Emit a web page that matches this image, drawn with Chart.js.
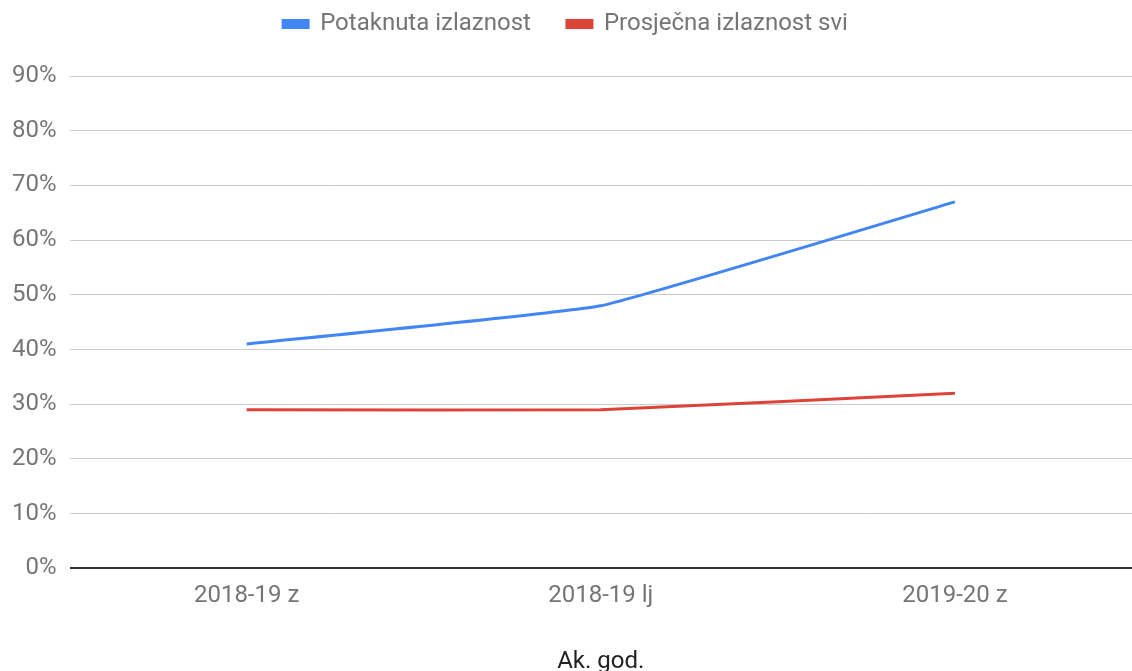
<!DOCTYPE html>
<html>
<head>
<meta charset="utf-8">
<script src="https://cdn.jsdelivr.net/npm/chart.js@4"></script>
<style>
  html, body { margin: 0; padding: 0; background: #fff; }
  #wrap { width: 1132px; height: 671px; }
</style>
</head>
<body>
<div id="wrap"><canvas id="chart"></canvas></div>
<script>
var labels = ["2018-19 z", "2018-19 lj", "2019-20 z"];
var potaknuta = [41, 48, 67];
var prosjecna = [29, 29, 32];
var yTicks = [0, 10, 20, 30, 40, 50, 60, 70, 80, 90];

var textColor = "#757575";
Chart.defaults.font.family = "Roboto";
Chart.defaults.font.size = 24;
Chart.defaults.color = textColor;

// push the plot down below the legend
var legendGap = {
  id: "legendGap",
  beforeInit: function(chart) {
    var fit = chart.legend.fit;
    chart.legend.fit = function() {
      fit.bind(chart.legend)();
      this.height += 30;
    };
  }
};

var ctx = document.getElementById("chart").getContext("2d");
new Chart(ctx, {
  type: "line",
  data: {
    labels: labels,
    datasets: [
      {
        label: "Potaknuta izlaznost",
        data: potaknuta,
        borderColor: "#4285f4",
        backgroundColor: "#4285f4",
        borderWidth: 3,
        pointRadius: 0,
        tension: 0.1
      },
      {
        label: "Prosječna izlaznost svi",
        data: prosjecna,
        borderColor: "#db4437",
        backgroundColor: "#db4437",
        borderWidth: 3,
        pointRadius: 0,
        tension: 0.1
      }
    ]
  },
  plugins: [legendGap],
  options: {
    responsive: true,
    maintainAspectRatio: false,
    animation: false,
    layout: { padding: { top: -24, right: 0, left: -1, bottom: -5 } },
    plugins: {
      legend: {
        position: "top",
        labels: { boxWidth: 25, boxHeight: 7, padding: 36, color: textColor }
      },
      tooltip: { enabled: false }
    },
    scales: {
      x: {
        offset: true,
        grid: { display: false, drawTicks: false },
        border: { display: false },
        ticks: { padding: 13 },
        title: { display: true, text: "Ak. god.", color: "#222", padding: { top: 24, bottom: 0 } }
      },
      y: {
        min: 0,
        max: 90,
        afterBuildTicks: function(axis) {
          axis.ticks = yTicks.map(function(v) { return { value: v }; });
        },
        border: { display: false },
        grid: {
          drawTicks: false,
          color: function(c) { return c.tick && c.tick.value === 0 ? "#333" : "#ccc"; },
          lineWidth: function(c) { return c.tick && c.tick.value === 0 ? 2 : 1; }
        },
        ticks: {
          padding: 13,
          callback: function(v) { return v + "%"; }
        }
      }
    }
  }
});
</script>
</body>
</html>
